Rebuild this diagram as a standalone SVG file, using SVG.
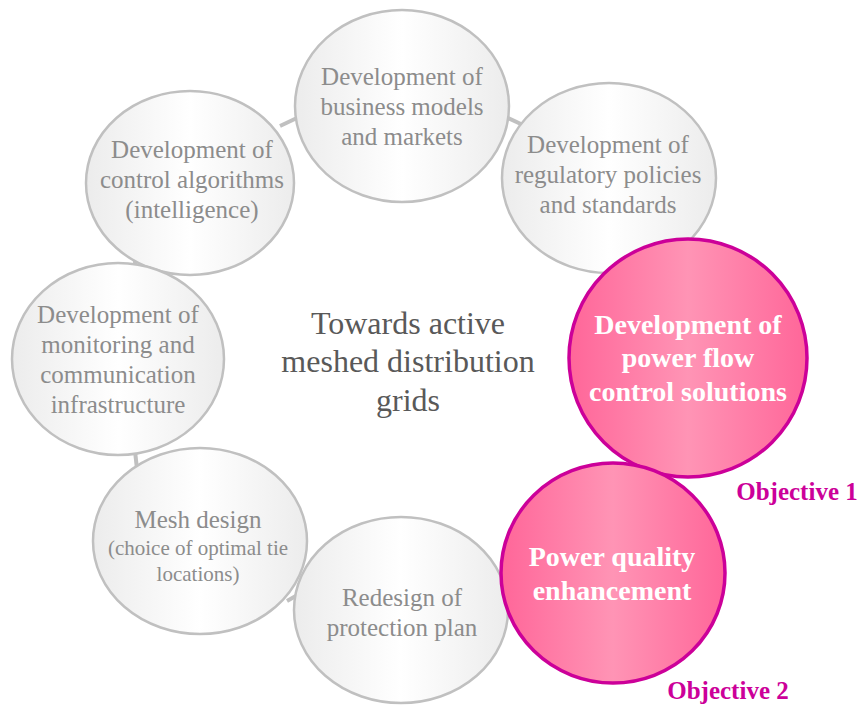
<svg xmlns="http://www.w3.org/2000/svg" width="858" height="706" viewBox="0 0 858 706">
<defs>
<linearGradient id="gg" x1="0" y1="0" x2="1" y2="0">
<stop offset="0" stop-color="#ececec"/>
<stop offset="0.5" stop-color="#ffffff"/>
<stop offset="1" stop-color="#ececec"/>
</linearGradient>
<linearGradient id="pg" x1="0" y1="0" x2="1" y2="0">
<stop offset="0" stop-color="#ff6699"/>
<stop offset="0.5" stop-color="#ff94b5"/>
<stop offset="1" stop-color="#ff6699"/>
</linearGradient>
</defs>
<style>
.g{fill:url(#gg);stroke:#c0c0c0;stroke-width:2.5}
.p{fill:url(#pg);stroke:#cc0099;stroke-width:3.5}
.gt{font-family:"Liberation Serif","Times New Roman",serif;font-size:25px;fill:#8c8c8c;text-anchor:middle}
.gs{font-size:21px}
.pt{font-family:"Liberation Serif","Times New Roman",serif;font-size:28px;font-weight:bold;fill:#ffffff;text-anchor:middle}
.ct{font-family:"Liberation Serif","Times New Roman",serif;font-size:32px;fill:#595959;text-anchor:middle}
.ob{font-family:"Liberation Serif","Times New Roman",serif;font-size:25px;font-weight:bold;fill:#cc0099;text-anchor:middle}
.c{stroke:#c0c0c0;stroke-width:4;fill:none}
</style>
<g id="connectors">
<line class="c" x1="280" y1="126" x2="299" y2="117"/>
<line class="c" x1="506" y1="117" x2="523" y2="125"/>
<line class="c" x1="134" y1="255" x2="136" y2="269"/>
<line class="c" x1="135" y1="451" x2="137" y2="469"/>
<line class="c" x1="287" y1="601" x2="301" y2="593"/>
</g>
<g id="business">
<ellipse class="g" cx="402" cy="106" rx="107" ry="96"/>
<text class="gt" x="402" y="85">Development of</text>
<text class="gt" x="402" y="115">business models</text>
<text class="gt" x="402" y="145">and markets</text>
</g>
<g id="regulatory">
<ellipse class="g" cx="609" cy="178" rx="107" ry="95"/>
<text class="gt" x="608" y="153">Development of</text>
<text class="gt" x="608" y="183">regulatory policies</text>
<text class="gt" x="608" y="213">and standards</text>
</g>
<g id="control">
<ellipse class="g" cx="190" cy="183" rx="104" ry="92"/>
<text class="gt" x="192" y="158">Development of</text>
<text class="gt" x="192" y="188">control algorithms</text>
<text class="gt" x="192" y="218">(intelligence)</text>
</g>
<g id="monitoring">
<ellipse class="g" cx="118" cy="359" rx="106" ry="96"/>
<text class="gt" x="118" y="323">Development of</text>
<text class="gt" x="118" y="353">monitoring and</text>
<text class="gt" x="118" y="383">communication</text>
<text class="gt" x="118" y="413">infrastructure</text>
</g>
<g id="mesh">
<ellipse class="g" cx="200" cy="541" rx="107" ry="93"/>
<text class="gt" x="198" y="528">Mesh design</text>
<text class="gt gs" x="198" y="555">(choice of optimal tie</text>
<text class="gt gs" x="198" y="581">locations)</text>
</g>
<g id="redesign">
<ellipse class="g" cx="401" cy="610" rx="107" ry="93"/>
<text class="gt" x="402" y="606">Redesign of</text>
<text class="gt" x="402" y="636">protection plan</text>
</g>
<g id="powerflow">
<ellipse class="p" cx="688" cy="358" rx="119" ry="119"/>
<text class="pt" x="688" y="334">Development of</text>
<text class="pt" x="688" y="367">power flow</text>
<text class="pt" x="688" y="401">control solutions</text>
</g>
<g id="powerquality">
<ellipse class="p" cx="613" cy="573" rx="112" ry="110"/>
<text class="pt" x="612" y="566">Power quality</text>
<text class="pt" x="612" y="600">enhancement</text>
</g>
<g id="center">
<text class="ct" x="408" y="334">Towards active</text>
<text class="ct" x="408" y="372">meshed distribution</text>
<text class="ct" x="408" y="411">grids</text>
</g>
<g id="objectives">
<text class="ob" x="797" y="500">Objective 1</text>
<text class="ob" x="728" y="699">Objective 2</text>
</g>
</svg>
